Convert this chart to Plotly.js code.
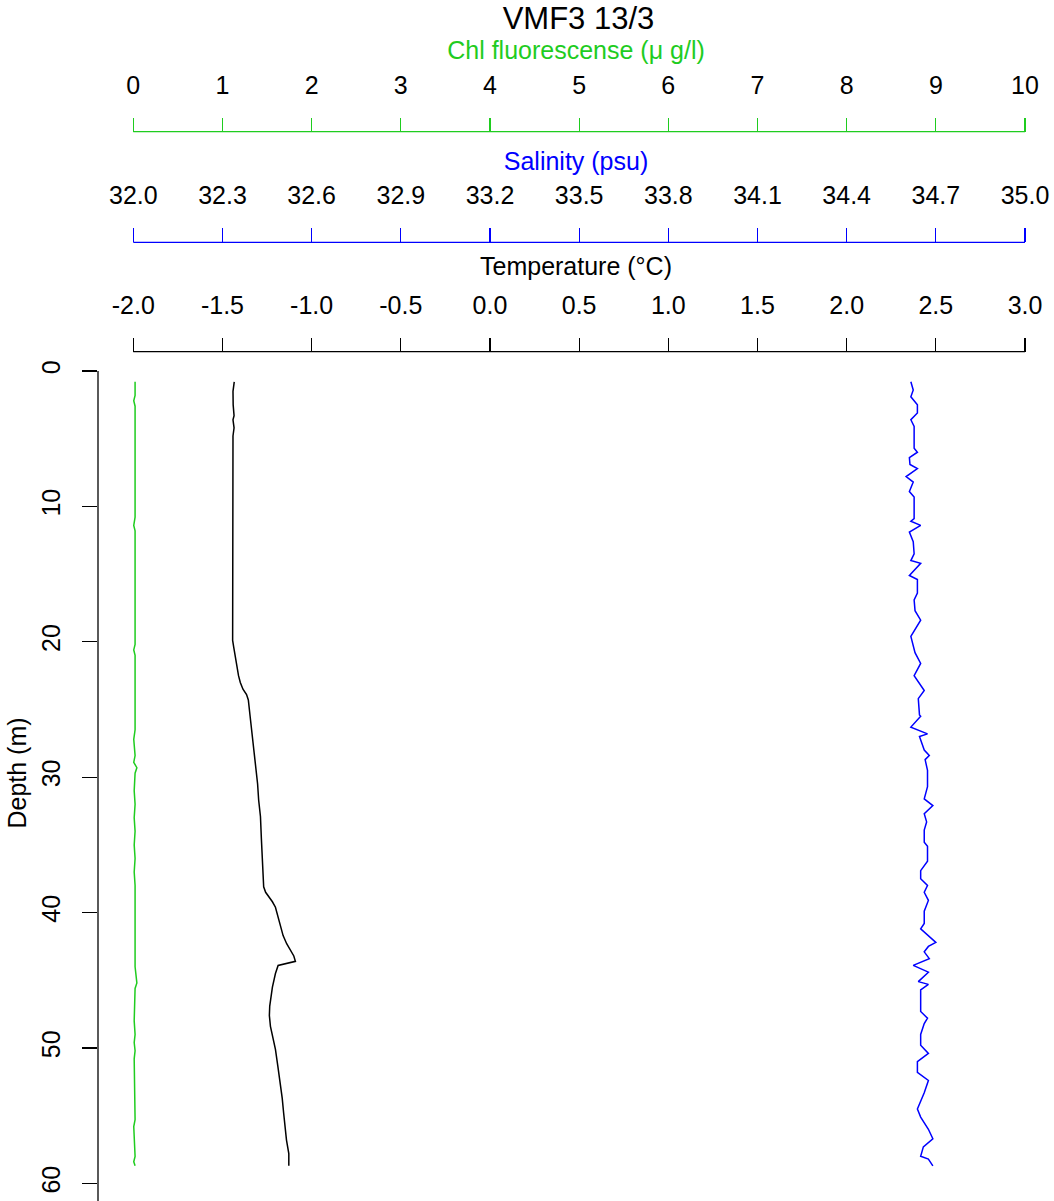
<!DOCTYPE html>
<html><head><meta charset="utf-8">
<script src="https://cdn.plot.ly/plotly-3.0.1.min.js"></script>
<style>html,body{margin:0;padding:0;background:#fff}#chart{width:1054px;height:1201px}</style>
</head><body><div id="chart"></div>
<script>
// ---------- data ----------
const chartTitle = 'VMF3 13/3';

const chlTicks = [0, 1, 2, 3, 4, 5, 6, 7, 8, 9, 10];
const chlTickText = ['0', '1', '2', '3', '4', '5', '6', '7', '8', '9', '10'];
const salTicks = [32.0, 32.3, 32.6, 32.9, 33.2, 33.5, 33.8, 34.1, 34.4, 34.7, 35.0];
const salTickText = ['32.0', '32.3', '32.6', '32.9', '33.2', '33.5', '33.8', '34.1', '34.4', '34.7', '35.0'];
const tempTicks = [-2.0, -1.5, -1.0, -0.5, 0.0, 0.5, 1.0, 1.5, 2.0, 2.5, 3.0];
const tempTickText = ['-2.0', '-1.5', '-1.0', '-0.5', '0.0', '0.5', '1.0', '1.5', '2.0', '2.5', '3.0'];
const depthTicks = [0, 10, 20, 30, 40, 50, 60];

const tempDepth = [0.8, 1.5, 2.5, 3.3, 3.6, 4.2, 4.8, 5.8, 8, 10, 12, 14, 16, 18, 19.9, 20.4, 21.0, 21.8, 22.5, 23.0, 23.5, 23.9, 24.3, 25.5, 26.7, 28.0, 29.2, 30.5, 31.7, 32.9, 34.5, 36.6, 38.1, 38.5, 38.8, 39.2, 39.6, 40.3, 41.0, 41.7, 42.3, 42.8, 43.2, 43.6, 43.9, 44.5, 45.5, 46.9, 47.6, 48.4, 50.1, 51.3, 52.6, 53.7, 54.8, 55.8, 56.8, 57.8, 58.7];
const tempVals = [-1.434, -1.441, -1.440, -1.435, -1.441, -1.435, -1.441, -1.441, -1.443, -1.443, -1.443, -1.443, -1.443, -1.443, -1.443, -1.437, -1.430, -1.418, -1.410, -1.400, -1.385, -1.365, -1.355, -1.345, -1.334, -1.322, -1.311, -1.303, -1.297, -1.287, -1.282, -1.276, -1.269, -1.258, -1.241, -1.220, -1.203, -1.190, -1.175, -1.160, -1.140, -1.119, -1.100, -1.091, -1.188, -1.203, -1.220, -1.235, -1.237, -1.231, -1.203, -1.190, -1.175, -1.165, -1.157, -1.150, -1.141, -1.128, -1.128];

const salDepth = [0.8, 1.4, 1.9, 2.5, 3.1, 3.6, 4.1, 5.7, 6.0, 6.4, 6.9, 7.2, 7.8, 8.2, 8.9, 9.3, 10.9, 11.1, 11.4, 11.9, 12.6, 13.5, 14.0, 14.2, 15.1, 15.4, 16.4, 16.9, 17.7, 18.4, 19.6, 20.8, 21.6, 22.5, 23.6, 24.2, 25.4, 25.5, 26.3, 26.8, 27.0, 28.0, 28.4, 28.7, 29.5, 30.7, 31.6, 32.1, 32.7, 33.3, 33.9, 34.8, 35.1, 36.2, 36.9, 37.5, 38.0, 38.5, 39.1, 39.9, 40.8, 41.2, 42.2, 42.5, 42.9, 43.4, 43.9, 44.4, 45.1, 45.3, 45.7, 47.3, 47.8, 48.2, 49.0, 49.8, 50.4, 51.0, 51.8, 52.4, 53.3, 54.1, 54.5, 55.1, 56.0, 56.7, 57.3, 58.0, 58.2, 58.7];
const salVals = [34.616, 34.624, 34.616, 34.638, 34.638, 34.616, 34.627, 34.627, 34.638, 34.611, 34.613, 34.638, 34.600, 34.624, 34.611, 34.627, 34.627, 34.616, 34.649, 34.611, 34.624, 34.627, 34.616, 34.649, 34.611, 34.638, 34.638, 34.627, 34.630, 34.649, 34.616, 34.630, 34.649, 34.627, 34.661, 34.641, 34.645, 34.649, 34.616, 34.672, 34.645, 34.661, 34.678, 34.664, 34.672, 34.672, 34.661, 34.690, 34.661, 34.669, 34.661, 34.661, 34.672, 34.672, 34.649, 34.649, 34.672, 34.661, 34.675, 34.661, 34.661, 34.649, 34.700, 34.675, 34.661, 34.678, 34.624, 34.675, 34.641, 34.675, 34.649, 34.649, 34.672, 34.661, 34.649, 34.649, 34.675, 34.638, 34.638, 34.675, 34.661, 34.645, 34.638, 34.649, 34.675, 34.690, 34.658, 34.649, 34.675, 34.690];

const chlDepth = [0.8, 1.8, 2.2, 2.6, 10.8, 11.4, 11.8, 20.2, 20.6, 21.0, 26.5, 27.2, 28.4, 28.9, 29.3, 29.7, 31.0, 32.0, 33.0, 34.0, 35.0, 36.0, 37.0, 38.0, 40.0, 44.0, 45.2, 45.6, 48.0, 49.0, 49.6, 50.2, 50.8, 55.3, 55.8, 58.0, 58.4, 58.7];
const chlVals = [0.020, 0.020, 0.005, 0.020, 0.020, 0.005, 0.020, 0.020, 0.005, 0.020, 0.020, 0.005, 0.020, 0.005, 0.040, 0.020, 0.010, 0.020, 0.010, 0.020, 0.010, 0.020, 0.010, 0.020, 0.020, 0.020, 0.040, 0.020, 0.010, 0.020, 0.010, 0.020, 0.010, 0.020, 0.005, 0.020, 0.005, 0.020];

// ---------- layout helpers ----------
const W = 1054, H = 1201, ML = 98;
const tickLeftPx = 133.3, tickRightPx = 1025;
const FONT = 'Liberation Sans, Arial, sans-serif';
const GREEN = '#1fcc1f', BLUE = '#0000ff', BLACK = '#000000';

function xRange(ticks) {
  const a = ticks[0], b = ticks[ticks.length - 1];
  const plotW = W - ML;
  const f0 = (tickLeftPx - ML) / plotW, f1 = (tickRightPx - ML) / plotW;
  const span = (b - a) / (f1 - f0);
  const lo = a - f0 * span;
  return [lo, lo + span];
}
const py = px => (H - px) / H;

const depthZeroPx = 371, depthPxPerM = 13.54, domTopPx = 345;
const depthRange = [(H - depthZeroPx) / depthPxPerM, (domTopPx - depthZeroPx) / depthPxPerM];

function topAxis(ticks, text, range, pos, color, title, standoff) {
  return {
    domain: [0, 1], anchor: 'free', position: pos, side: 'top',
    range: range, tickmode: 'array', tickvals: ticks, ticktext: text,
    ticks: 'outside', ticklen: 14, tickwidth: 1.3, tickcolor: color,
    ticklabelstandoff: 14,
    showline: false, showgrid: false, zeroline: false,
    tickfont: {family: FONT, size: 25, color: BLACK},
    title: {text: title, font: {family: FONT, size: 25, color: color}, standoff: standoff},
    automargin: false, fixedrange: true
  };
}

const temp = {x: tempVals, y: tempDepth, xaxis: 'x', yaxis: 'y', mode: 'lines', line: {color: BLACK, width: 1.5}, showlegend: false, name: 'Temperature'};
const sal = {x: salVals, y: salDepth, xaxis: 'x2', yaxis: 'y', mode: 'lines', line: {color: BLUE, width: 1.5}, showlegend: false, name: 'Salinity'};
const chl = {x: chlVals, y: chlDepth, xaxis: 'x3', yaxis: 'y', mode: 'lines', line: {color: GREEN, width: 1.5}, showlegend: false, name: 'Chl'};

const posTemp = py(351.7), posSal = py(242.3), posChl = py(131.7);

const layout = {
  width: W, height: H,
  margin: {l: ML, r: 0, t: 0, b: 0, pad: 0},
  paper_bgcolor: '#fff', plot_bgcolor: '#fff',
  font: {family: FONT, color: BLACK},
  showlegend: false,
  title: {text: chartTitle, font: {family: FONT, size: 31, color: BLACK}, xref: 'container', x: 578.5 / W, xanchor: 'center', yref: 'container', y: 1 - 18 / H, yanchor: 'middle'},
  xaxis: topAxis(tempTicks, tempTickText, xRange(tempTicks), posTemp, BLACK, 'Temperature (°C)', 6),
  xaxis2: Object.assign(topAxis(salTicks, salTickText, xRange(salTicks), posSal, BLUE, 'Salinity (psu)', 2), {overlaying: 'x'}),
  xaxis3: Object.assign(topAxis(chlTicks, chlTickText, xRange(chlTicks), posChl, GREEN, 'Chl fluorescense (μ g/l)', 2), {overlaying: 'x'}),
  yaxis: {
    domain: [0, py(domTopPx)], anchor: 'x', side: 'left', range: depthRange,
    tickmode: 'array', tickvals: depthTicks, ticks: 'outside', ticklen: 15, tickwidth: 1.3, tickcolor: BLACK,
    tickangle: -90, ticklabelstandoff: 12,
    showline: false, showgrid: false, zeroline: false,
    tickfont: {family: FONT, size: 25, color: BLACK},
    title: {text: 'Depth (m)', font: {family: FONT, size: 25, color: BLACK}, standoff: 3},
    automargin: false, fixedrange: true
  },
  shapes: [
    {type: 'line', xref: 'x', yref: 'paper', x0: tempTicks[0], x1: tempTicks[tempTicks.length - 1], y0: posTemp, y1: posTemp, line: {color: BLACK, width: 1.3}},
    {type: 'line', xref: 'x2', yref: 'paper', x0: salTicks[0], x1: salTicks[salTicks.length - 1], y0: posSal, y1: posSal, line: {color: BLUE, width: 1.3}},
    {type: 'line', xref: 'x3', yref: 'paper', x0: chlTicks[0], x1: chlTicks[chlTicks.length - 1], y0: posChl, y1: posChl, line: {color: GREEN, width: 1.3}},
    {type: 'line', xref: 'paper', yref: 'y', x0: 0, x1: 0, y0: depthTicks[0], y1: depthRange[0], line: {color: BLACK, width: 1.3}}
  ]
};

Plotly.newPlot('chart', [chl, temp, sal], layout, {displayModeBar: false, staticPlot: true});
</script>
</body></html>
